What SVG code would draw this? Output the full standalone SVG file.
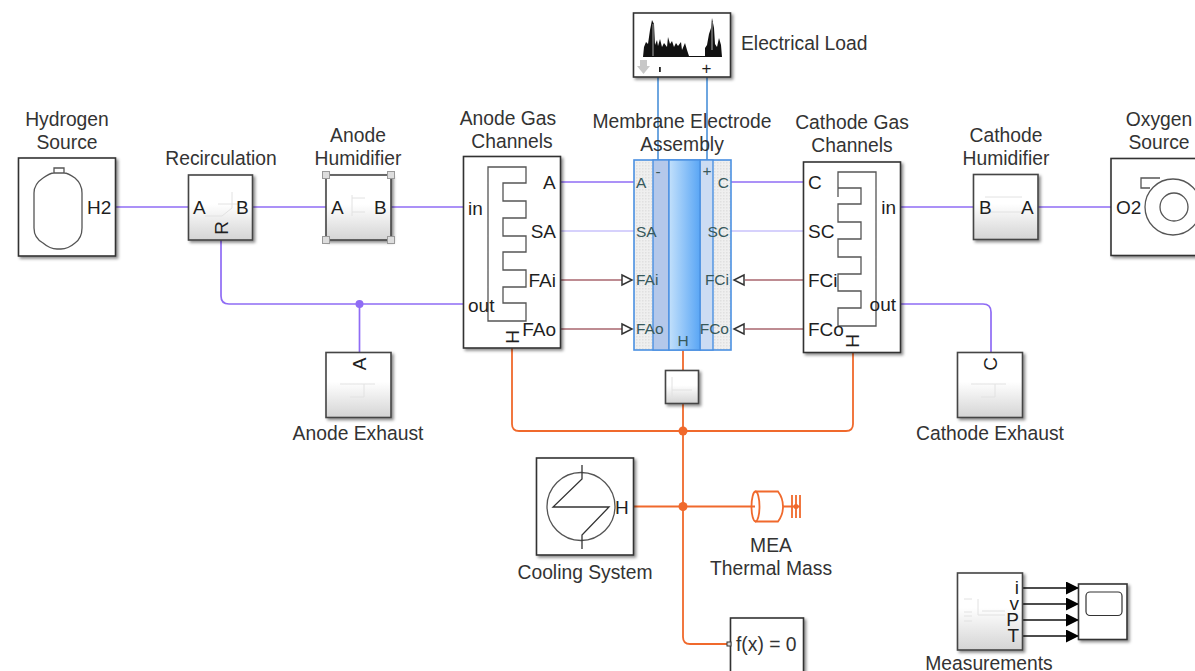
<svg xmlns="http://www.w3.org/2000/svg" width="1195" height="671" viewBox="0 0 1195 671">
<defs>
<linearGradient id="g" x1="0" y1="0" x2="0" y2="1"><stop offset="0.45" stop-color="#fff"/><stop offset="1" stop-color="#d4d4d4"/></linearGradient>
<linearGradient id="mem" x1="0" y1="0" x2="1" y2="0"><stop offset="0" stop-color="#c2e0fb"/><stop offset="1" stop-color="#5aa6f5"/></linearGradient>
<pattern id="dots" width="3" height="3" patternUnits="userSpaceOnUse"><rect width="3" height="3" fill="#efefef"/><rect width="1.5" height="1.5" fill="#e0e0e0"/></pattern>
<filter id="sh" x="-15%" y="-15%" width="135%" height="135%"><feDropShadow dx="2" dy="2" stdDeviation="1.5" flood-color="#000" flood-opacity=".45"/></filter>
<marker id="tip" markerWidth="14" markerHeight="14" refX="13" refY="6.500" orient="auto" markerUnits="userSpaceOnUse"><path d="M0 0L13 6.500L0 13Z" fill="#000"/></marker>
</defs>
<style>
text{font-family:"Liberation Sans",Arial,sans-serif;font-size:19px;fill:#1f1f1f}
.m{text-anchor:middle}.e{text-anchor:end}
.lb{font-size:19.300px;fill:#333}
.b{fill:#fff;stroke:#333;stroke-width:1.600;filter:url(#sh)}
.s{fill:url(#g);stroke:#444;stroke-width:1.600;filter:url(#sh)}
.ic{fill:none;stroke:#555;stroke-width:1.300}
.gas{fill:none;stroke:#8f6cf5;stroke-width:1.700}
.vap{fill:none;stroke:#c9c2fb;stroke-width:1.700}
.fl{fill:none;stroke:#a8666e;stroke-width:1.400}
.th{fill:none;stroke:#f0692c;stroke-width:1.800}
.el{fill:none;stroke:#4a90d9;stroke-width:1.600}
.sg{fill:none;stroke:#111;stroke-width:1.300;marker-end:url(#tip)}
.fa{fill:#fff;stroke:#333;stroke-width:1.500}
.mi{fill:none;stroke:#e2e2e2;stroke-width:1}
.mt{fill:#37595c;font-size:15.500px}
.hd{fill:#ddd;stroke:#999;stroke-width:1}
</style>

<g id="connectors">
<path class="gas" d="M116 207H188"/>
<path class="gas" d="M253 207H326"/>
<path class="gas" d="M391 207H463"/>
<path class="gas" d="M221 240V296Q221 304 229 304H463"/>
<path class="gas" d="M359.500 304V352"/>
<circle cx="359.500" cy="304" r="4" fill="#8f6cf5"/>
<path class="gas" d="M561 182H634"/>
<path class="vap" d="M561 231H634"/>
<path class="fl" d="M561 280H622"/>
<path class="fl" d="M561 329H622"/>
<path class="gas" d="M731 182H803"/>
<path class="vap" d="M731 231H803"/>
<path class="fl" d="M745 280H803"/>
<path class="fl" d="M745 329H803"/>
<path class="gas" d="M900 207H973"/>
<path class="gas" d="M1038 207H1111"/>
<path class="gas" d="M900 304H983Q991 304 991 312V352"/>
<path class="el" d="M658 77V160"/>
<path class="el" d="M707 77V160"/>
<path class="th" d="M683 350V370"/>
<path class="th" d="M683 403V637Q683 644 690 644H727"/>
<path class="th" d="M512 348V424Q512 431 519 431H846Q853 431 853 424V352"/>
<circle cx="683" cy="431" r="4.500" fill="#f0692c"/>
<path class="th" d="M633 506.500H755"/>
<circle cx="683" cy="506.500" r="4.500" fill="#f0692c"/>
<path class="sg" d="M1022 588H1079"/>
<path class="sg" d="M1022 604H1079"/>
<path class="sg" d="M1022 620H1079"/>
<path class="sg" d="M1022 636H1079"/>
</g>

<g id="electrical-load">
<rect class="b" x="633.500" y="13" width="97" height="64"/>
<path d="M643 57L644 47L646 42L648 44L650 30L652 20L654 24L655 45L657 40L658 46L660 39L662 47L664 43L667 47L668 37L670 44L672 41L674 47L676 43L678 46L681 42L682 50L685 43L687 50L689 56L705 56V48L707 45L709 34L711 28L712 18L714 28L715 44L717 47L719 38L721 45L722 57Z" fill="#111"/>
<path d="M653 24V56M712 22V50" stroke="#aaa" fill="none"/>
<path d="M640 60H647V66H650L643.500 74L637 66H640Z" fill="#c8c8c8"/>
<rect x="659" y="67" width="1.800" height="5" fill="#222"/>
<text class="m" x="706.500" y="74" style="font-size:17px">+</text>
<text class="lb" x="741" y="50">Electrical Load</text>
</g>

<g id="hydrogen-source">
<rect class="b" x="18.500" y="158" width="97" height="98"/>
<path class="ic" d="M54 173V168H64V173M43 178Q50 173 54 173H64Q68 173 75 178Q82 184 82 193V228Q82 238 75 243Q68 249 61 249H57Q50 249 43 243Q34 238 34 228V193Q34 184 43 178Z"/>
<text x="87" y="213.500">H2</text>
<text class="m lb" x="67" y="126">Hydrogen</text><text class="m lb" x="67" y="149">Source</text>
</g>

<g id="recirculation">
<rect class="s" x="188.500" y="175" width="64" height="65"/>
<path class="mi" d="M205 216H222L232 208V192M218 204H240"/>
<text x="193" y="213.500">A</text><text x="236" y="213.500">B</text>
<text class="m" transform="translate(221 228) rotate(-90)" x="0" y="6.500">R</text>
<text class="m lb" x="221" y="165">Recirculation</text>
</g>

<g id="anode-humidifier">
<rect class="s" x="326" y="175" width="65" height="65"/>
<path class="mi" d="M352 198H365M352 212H365M352 195V216"/>
<rect class="hd" x="322.500" y="171.500" width="7" height="7"/><rect class="hd" x="387.500" y="171.500" width="7" height="7"/><rect class="hd" x="322.500" y="236.500" width="7" height="7"/><rect class="hd" x="387.500" y="236.500" width="7" height="7"/>
<text x="331" y="213.500">A</text><text x="374" y="213.500">B</text>
<text class="m lb" x="358" y="142">Anode</text><text class="m lb" x="358" y="165">Humidifier</text>
</g>

<g id="anode-gas-channels">
<rect class="b" x="463.500" y="156.500" width="97" height="191.500"/>
<path class="ic" d="M526 183V167H488V321H526V303H503V287H526V270H503V252H526V236H503V218H526V201H503V183Z"/>
<text x="543" y="189">A</text>
<text class="e" x="556" y="238">SA</text>
<text class="e" x="556" y="287">FAi</text>
<text class="e" x="556" y="336">FAo</text>
<text x="468" y="214.500">in</text>
<text x="468" y="312">out</text>
<text class="m" transform="translate(512 337) rotate(-90)" y="6.500">H</text>
<text class="m lb" x="508" y="125">Anode Gas</text><text class="m lb" x="512" y="148">Channels</text>
</g>

<g id="membrane-electrode-assembly">
<rect x="634" y="160" width="97" height="190" fill="url(#dots)" stroke="#4a90e2" stroke-width="1.600"/>
<rect x="653" y="160" width="16" height="190" fill="#b4c8ea" stroke="#4a90e2" stroke-width="1.400"/>
<rect x="700" y="160" width="13" height="190" fill="#ccdcf3" stroke="#4a90e2" stroke-width="1.400"/>
<rect x="669" y="160" width="31" height="190" fill="url(#mem)" stroke="#4a90e2" stroke-width="1.400"/>
<path class="fa" d="M622 275L632 280L622 285Z"/><path class="fa" d="M622 324L632 329L622 334Z"/>
<path class="fa" d="M744 275L734 280L744 285Z"/><path class="fa" d="M744 324L734 329L744 334Z"/>
<text class="mt" x="636" y="188">A</text><text class="mt" x="636" y="237">SA</text><text class="mt" x="636" y="285">FAi</text><text class="mt" x="636" y="334">FAo</text>
<text class="mt e" x="729" y="188">C</text><text class="mt e" x="729" y="237">SC</text><text class="mt e" x="729" y="285">FCi</text><text class="mt e" x="729" y="334">FCo</text>
<text class="mt m" x="683" y="346">H</text>
<text class="mt m" x="658" y="177">-</text><text class="mt m" x="707" y="176">+</text>
<text class="m lb" x="682" y="128">Membrane Electrode</text><text class="m lb" x="682" y="151">Assembly</text>
</g>

<g id="cathode-gas-channels">
<rect class="b" x="803.500" y="162" width="97" height="190.500"/>
<path class="ic" d="M838 197V172H876V326H838V308H861V291H838V274H861V257H838V239H861V222H838V204H861V188H838"/>
<text x="808" y="189">C</text>
<text x="808" y="238">SC</text>
<text x="808" y="287">FCi</text>
<text x="808" y="336">FCo</text>
<text class="e" x="896" y="213.500">in</text>
<text class="e" x="896" y="311">out</text>
<text class="m" transform="translate(852 341) rotate(-90)" y="6.500">H</text>
<text class="m lb" x="852" y="129">Cathode Gas</text><text class="m lb" x="852" y="152">Channels</text>
</g>

<g id="cathode-humidifier">
<rect class="s" x="973.500" y="174.500" width="64.500" height="65"/>
<path class="mi" d="M985 197H1022M985 212H1022"/>
<text x="979" y="213.500">B</text><text x="1021" y="213.500">A</text>
<text class="m lb" x="1006" y="142">Cathode</text><text class="m lb" x="1006" y="165">Humidifier</text>
</g>

<g id="oxygen-source">
<rect class="b" x="1111" y="158.500" width="97" height="97"/>
<circle class="ic" cx="1173" cy="207" r="28"/><circle class="ic" cx="1174" cy="207" r="14"/>
<path class="ic" d="M1160 178H1141V188H1150"/>
<text x="1116" y="213.500">O2</text>
<text class="m lb" x="1159" y="126">Oxygen</text><text class="m lb" x="1159" y="149">Source</text>
</g>

<g id="anode-exhaust">
<rect class="s" x="326" y="352.500" width="65" height="65"/>
<path class="mi" d="M340 384H375M364 384V397M350 397H364"/>
<text class="m" transform="translate(359 364) rotate(-90)" y="6.500">A</text>
<text class="m lb" x="358" y="440">Anode Exhaust</text>
</g>

<g id="cathode-exhaust">
<rect class="s" x="957.500" y="352.500" width="65" height="65"/>
<path class="mi" d="M971 384H1006M995 384V397M981 397H995"/>
<text class="m" transform="translate(990 364) rotate(-90)" y="6.500">C</text>
<text class="m lb" x="990" y="440">Cathode Exhaust</text>
</g>

<g id="thermal-subsystem">
<rect class="s" x="665.500" y="370.500" width="33" height="33"/>
<path class="mi" d="M672 377V397M672 390H692"/>
</g>

<g id="cooling-system">
<rect class="b" x="536.500" y="458" width="97" height="97"/>
<circle class="ic" cx="581" cy="506.500" r="34"/>
<path d="M582 465V479L553 507H609L582 535V549" fill="none" stroke="#333" stroke-width="1.300"/>
<text x="615" y="513.500">H</text>
<text class="m lb" x="585" y="579">Cooling System</text>
</g>

<g id="mea-thermal-mass">
<path class="th" d="M755 491.500H778Q783 498 783 506.500Q783 515 778 521.500H755"/>
<ellipse class="th" cx="755.500" cy="506.500" rx="4" ry="15"/>
<path class="th" d="M783 506.500H800M792 495V518M796 495V518M800 495V518" stroke-width="1.500"/>
<circle cx="796" cy="506.500" r="2.500" fill="#f0692c"/>
<text class="m lb" x="771" y="552">MEA</text><text class="m lb" x="771" y="575">Thermal Mass</text>
</g>

<g id="solver-configuration">
<rect class="b" x="730.500" y="618" width="73" height="60"/>
<rect x="727" y="642" width="4" height="4" fill="#ddd" stroke="#333" stroke-width="1"/>
<text class="lb" x="736" y="650.500">f(x) = 0</text>
</g>

<g id="measurements">
<rect class="s" x="957.500" y="573" width="65" height="77"/>
<path class="mi" d="M964 599H972M964 612H972M964 616H972M964 621H972M978 599V615H1005M982 611H1005"/>
<text class="e" x="1019" y="594">i</text><text class="e" x="1019" y="610">v</text><text class="e" x="1019" y="626">P</text><text class="e" x="1019" y="642">T</text>
<text class="m lb" x="989" y="670">Measurements</text>
</g>

<g id="scope">
<rect class="b" x="1078.500" y="584" width="48.500" height="55.500"/>
<rect x="1086" y="592" width="36" height="23.500" rx="4" fill="none" stroke="#333" stroke-width="1.200"/>
</g>
</svg>
